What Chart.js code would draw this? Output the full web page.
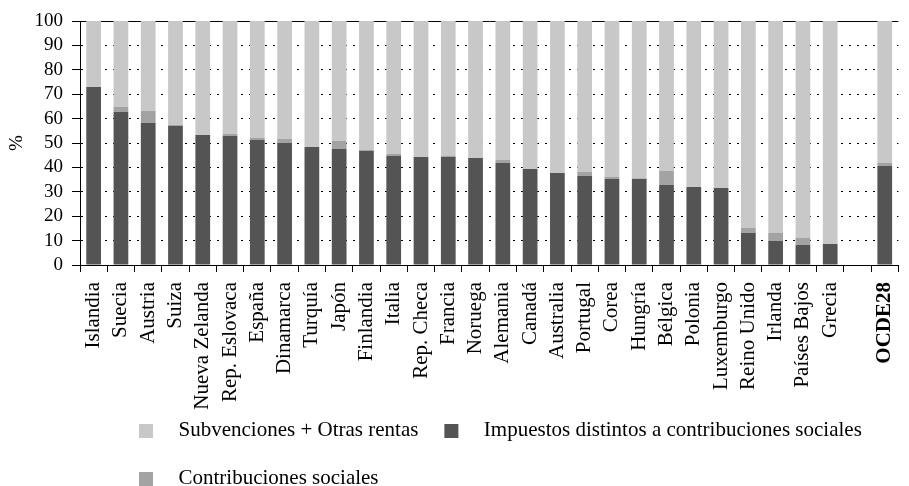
<!DOCTYPE html>
<html>
<head>
<meta charset="utf-8">
<script src="https://cdn.jsdelivr.net/npm/chart.js@4/dist/chart.umd.min.js"></script>
<style>
  html, body { margin: 0; padding: 0; background: #fff; overflow: hidden; }
  #wrap { width: 909px; height: 486px; overflow: hidden; }
</style>
</head>
<body>
<div id="wrap"><canvas id="myChart" width="920" height="516"></canvas></div>
<script>
// Data
const paises = ['Islandia', 'Suecia', 'Austria', 'Suiza', 'Nueva Zelanda', 'Rep. Eslovaca', 'España', 'Dinamarca',
  'Turquía', 'Japón', 'Finlandia', 'Italia', 'Rep. Checa', 'Francia', 'Noruega', 'Alemania', 'Canadá', 'Australia',
  'Portugal', 'Corea', 'Hungría', 'Bélgica', 'Polonia', 'Luxemburgo', 'Reino Unido', 'Irlanda', 'Países Bajos',
  'Grecia', '', 'OCDE28'];
const impuestos = [72.9, 62.7, 58.2, 57.0, 53.3, 52.9, 51.2, 50.0, 48.4, 47.5, 46.7, 44.7, 44.3, 44.3, 43.9, 41.8,
  39.3, 37.7, 36.5, 35.2, 35.2, 32.8, 32.0, 31.6, 13.1, 9.8, 8.2, 8.6, null, 40.6];
const contribuciones = [0, 2.1, 4.9, 0.4, 0, 0.8, 0.8, 1.6, 0, 3.3, 0.4, 0.8, 0, 0.4, 0, 1.2,
  0, 0, 1.6, 0.9, 0.4, 5.7, 0, 0, 2.1, 3.3, 2.9, 0, null, 1.2];
const subvenciones = [27.1, 35.2, 36.9, 42.6, 46.7, 46.3, 48.0, 48.4, 51.6, 49.2, 52.9, 54.5, 55.7, 55.3, 56.1, 57.0,
  60.7, 62.3, 61.9, 63.9, 64.4, 61.5, 68.0, 68.4, 84.8, 86.9, 88.9, 91.4, null, 58.2];
const yMin = 0, yMax = 100, yStep = 10;

const colores = ['#545454', '#a3a3a3', '#c8c8c8'];
const serif = "'Liberation Serif', 'Times New Roman', serif";

// legend square with some room around it
function legendBox(color) {
  const c = document.createElement('canvas');
  c.width = 40;
  c.height = 14;
  const g = c.getContext('2d');
  g.fillStyle = color;
  g.fillRect(5, 0, 14, 14);
  return c;
}

// move legend where the original has it
const legendPos = {
  id: 'legendPos',
  afterLayout(chart) {
    const lg = chart.legend;
    const dx = 113 - lg.left;
    const dy = 393 - lg.top;
    lg.left += dx; lg.right += dx;
    lg.top += dy; lg.bottom += dy;
  }
};

const data = {
  labels: paises,
  datasets: [{
    label: 'Impuestos distintos a contribuciones sociales',
    data: impuestos,
    backgroundColor: colores[0]
  }, {
    label: 'Contribuciones sociales',
    data: contribuciones,
    backgroundColor: colores[1]
  }, {
    label: 'Subvenciones + Otras rentas',
    data: subvenciones,
    backgroundColor: colores[2]
  }]
};

const legendOrder = {2: 0, 0: 1, 1: 2};

const config = {
  type: 'bar',
  data,
  options: {
    responsive: false,
    animation: false,
    layout: { padding: { top: 21, right: 3, left: 0, bottom: 0 } },
    datasets: { bar: { categoryPercentage: 1, barPercentage: 0.54 } },
    plugins: {
      tooltip: { enabled: false },
      legend: {
        position: 'bottom',
        align: 'start',
        fullSize: false,
        labels: {
          usePointStyle: true,
          pointStyleWidth: 28,
          padding: 27,
          color: '#000',
          font: { family: serif, size: 21 },
          sort: (a, b) => legendOrder[a.datasetIndex] - legendOrder[b.datasetIndex],
          generateLabels: function(chart) {
            const items = Chart.defaults.plugins.legend.labels.generateLabels(chart);
            items.forEach(it => { it.pointStyle = legendBox(colores[it.datasetIndex]); });
            return items;
          }
        }
      }
    },
    scales: {
      x: {
        stacked: true,
        afterFit: (s) => { s.height = 145; },
        grid: { drawOnChartArea: false, drawTicks: true, tickLength: 7, color: '#000', offset: true },
        border: { display: true, color: '#000', width: 1 },
        ticks: {
          autoSkip: false,
          maxRotation: 90,
          minRotation: 90,
          padding: 10,
          color: '#000',
          font: (ctx) => ({ family: serif, size: 21, weight: ctx.index === 29 ? 'bold' : 'normal' })
        }
      },
      y: {
        stacked: true,
        min: yMin,
        max: yMax,
        afterFit: (s) => { s.width = 80; },
        title: { display: true, text: '%', color: '#000', font: { family: serif, size: 19 }, padding: { top: 6, bottom: 4 } },
        grid: { color: '#000', lineWidth: 1, tickLength: 8, tickBorderDash: [] },
        border: {
          display: true,
          color: '#000',
          width: 1,
          dash: (ctx) => (ctx.tick && ctx.tick.value === 100) ? [] : [2, 6]
        },
        ticks: { stepSize: yStep, autoSkip: false, padding: 9, color: '#000', font: { family: serif, size: 19 } }
      }
    }
  },
  plugins: [legendPos]
};

var myChart = new Chart(
  document.getElementById('myChart'),
  config
);
</script>
</body>
</html>
